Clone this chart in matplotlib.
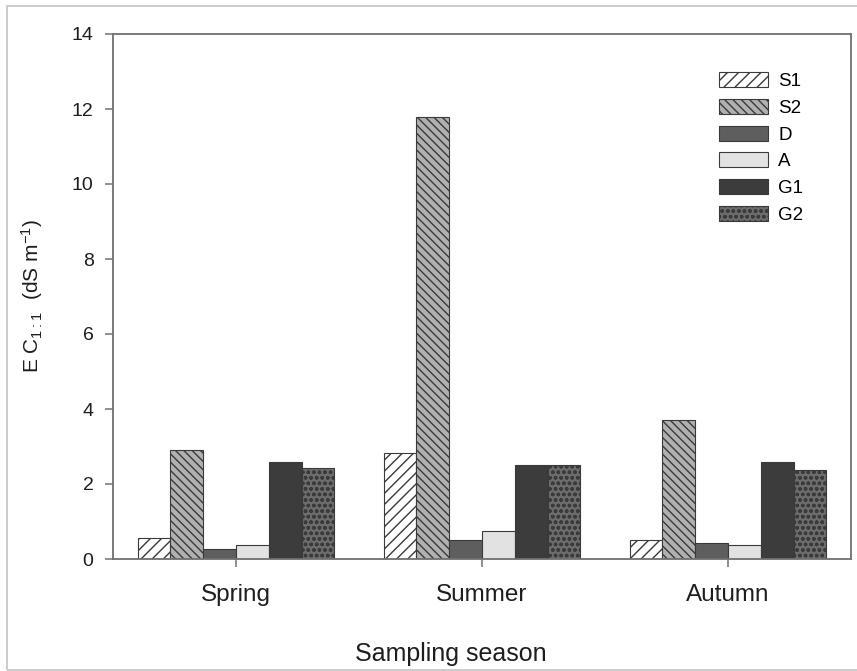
import numpy as np
import matplotlib
matplotlib.use('Agg')
import matplotlib.pyplot as plt
from matplotlib.patches import Rectangle

# conductividad electrica por estacion y sitio
estaciones = ['Spring', 'Summer', 'Autumn']
sitios = ['S1', 'S2', 'D', 'A', 'G1', 'G2']
s1 = [0.56, 2.82, 0.52]
s2 = [2.91, 11.80, 3.72]
d = [0.26, 0.52, 0.43]
a = [0.37, 0.75, 0.38]
g1 = [2.60, 2.52, 2.60]
g2 = [2.43, 2.50, 2.37]
series = [s1, s2, d, a, g1, g2]

# relleno y trama de cada sitio
rellenos = ['white', '#b0b0b0', '#5e5e5e', '#e2e2e2', '#3c3c3c', '#6c6c6c']
tramas = ['///', '\\\\\\\\', None, None, None, 'ooo']

plt.rcParams['font.family'] = ['Liberation Sans', 'DejaVu Sans']
plt.rcParams['hatch.linewidth'] = 1.0
plt.rcParams['hatch.color'] = 'black'

fig = plt.figure(figsize=(8.57, 6.71), dpi=100)
ax = fig.add_axes([113 / 857, 1 - 559 / 671, (851 - 113) / 857, (559 - 34) / 671])

x = np.arange(len(estaciones))
ancho = 0.8 / len(sitios)
for i, (nombre, valores) in enumerate(zip(sitios, series)):
    pos = x - 0.4 + ancho * (i + 0.5)
    ax.bar(pos, valores, ancho, color=rellenos[i], hatch=tramas[i],
           edgecolor='#3a3a3a', linewidth=0.8, label=nombre, zorder=2)

ax.set_xlim(-0.5, 2.5)
ax.set_ylim(0, 14)
ax.set_yticks(np.arange(0, 15, 2))
ax.set_xticks(x)
ax.set_xticklabels(estaciones)

gris = '#707070'
for lado in ax.spines.values():
    lado.set_color(gris)
    lado.set_linewidth(1.3)
ax.tick_params(axis='both', direction='out', length=6, width=1.1, color=gris,
               labelcolor='#1e1e1e')
ax.tick_params(axis='y', labelsize=14, pad=8, right=False)
ax.tick_params(axis='x', labelsize=17.5, pad=12, top=False)

ax.set_ylabel(r'E C$\mathregular{_{1:1}}$  (dS m$\mathregular{^{-1}}$)',
              fontsize=15, color='#1e1e1e')
ax.yaxis.set_label_coords(-0.092, 0.5)
ax.set_xlabel('Sampling season', fontsize=18, color='#1e1e1e')
ax.xaxis.set_label_coords(0.458, -0.158)

ax.legend(loc='upper left', bbox_to_anchor=(719 / 857, 1 - 72 / 671),
          bbox_transform=fig.transFigure, frameon=False, fontsize=13.5,
          handlelength=2.6, handleheight=0.85, labelspacing=0.47,
          handletextpad=0.55, borderpad=0, borderaxespad=0)

# marco exterior de la figura
fig.patches.append(Rectangle((7 / 857, 1 / 671), 1.2, 1 - 7 / 671,
                             transform=fig.transFigure, fill=False,
                             edgecolor='#c4c4c4', linewidth=1.2))

plt.savefig('out.png', dpi=100)
